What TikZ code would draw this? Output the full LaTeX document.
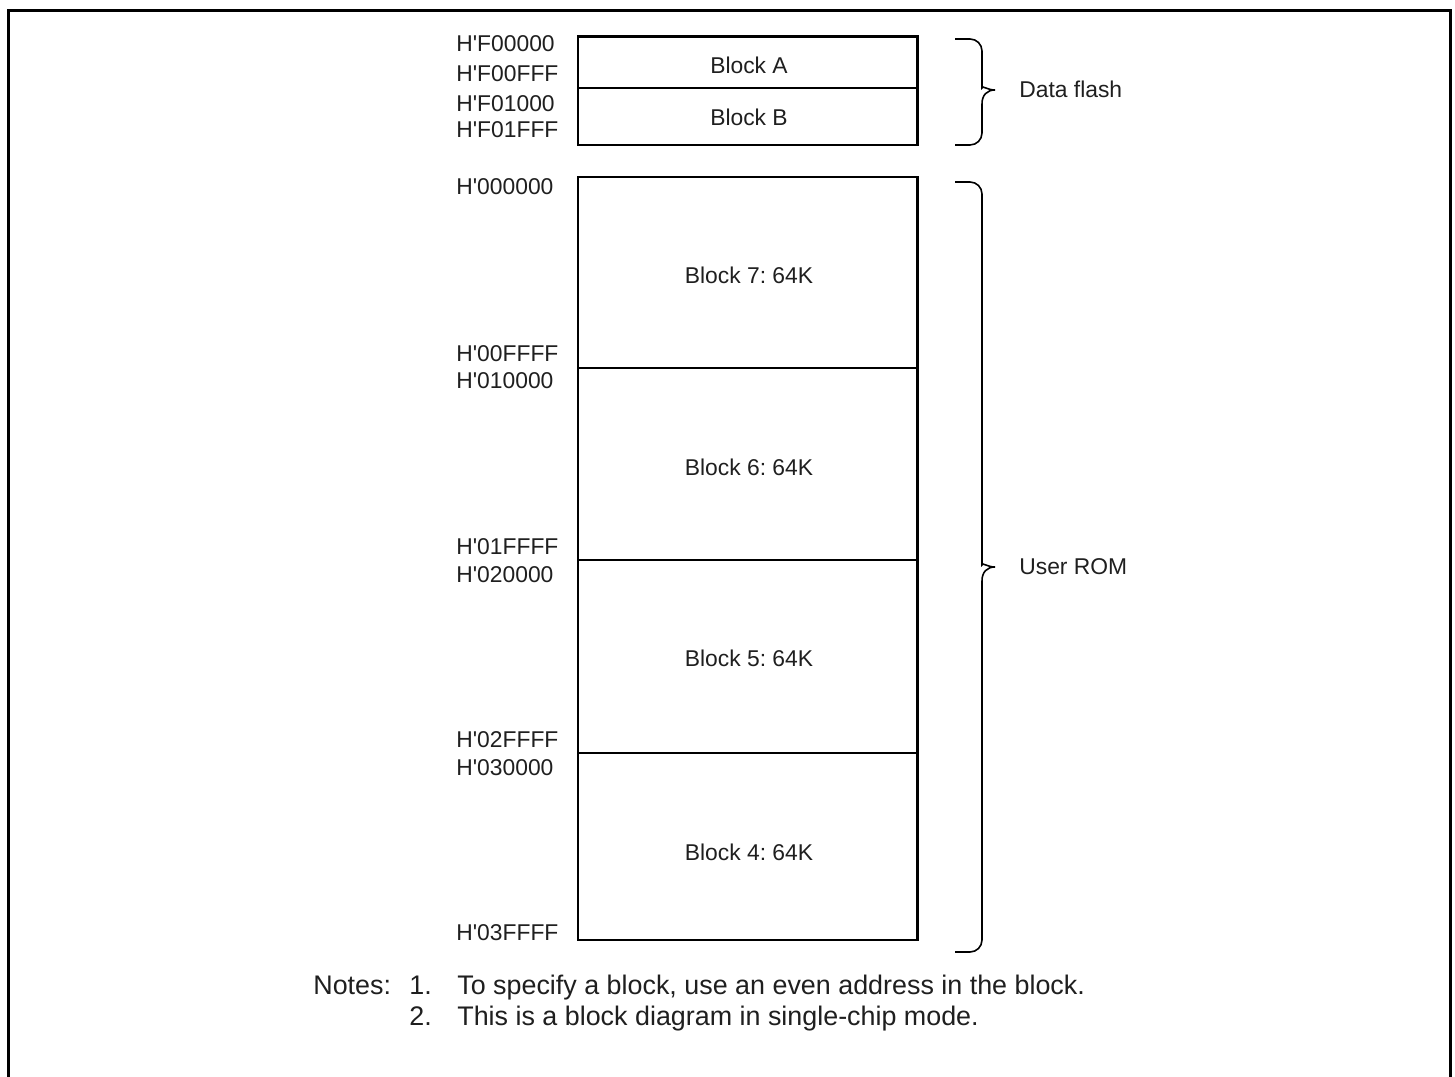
\documentclass[tikz,border=0pt]{standalone}
\usepackage{fontspec}
\setmainfont{Liberation Sans}
\newcommand{\hq}{\textquotesingle}
\newcommand{\membrace}[3]{%
 \draw [line width = 0.9pt] (955,#1) [rounded corners = 0.24cm] -- (982,#1) -- (982,#2-14) [sharp corners]
   .. controls (982,#2-5) and (987,#2) .. (995,#2)
   .. controls (987,#2) and (982,#2+5) .. (982,#2+14) [rounded corners = 0.24cm] -- (982,#3) -- (955,#3);}

\begin{document}
\frenchspacing
\begin{tikzpicture}[x = 0.02cm, y = -0.02cm, font = \fontsize{13pt}{15pt}\selectfont, every node/.style = {inner sep = 0pt, text = black!88}]
\useasboundingbox (0,0) rectangle (1455,1077);
\draw [line width = 0.06cm] (8.5,1077) -- (8.5,10.5) -- (1450.5,10.5) -- (1450.5,1077);
% data flash
\draw [line width = 1.7pt] (578,37) rectangle (917,145);
\draw [line width = 1.7pt] (578,88) -- (917,88);
% user rom
\draw [line width = 1.7pt] (578,177) rectangle (917,940);
\draw [line width = 1.7pt] (578,368) -- (917,368);
\draw [line width = 1.7pt] (578,560) -- (917,560);
\draw [line width = 1.7pt] (578,753) -- (917,753);
\membrace{39}{90}{145}
\membrace{182}{567}{952}
\node (blkA) [anchor = base] at (749,74) {Block A};
\node (blkB) [anchor = base] at (749,126) {Block B};
\node (blk7) [anchor = base] at (749,284) {Block 7: 64K};
\node (blk6) [anchor = base] at (749,476) {Block 6: 64K};
\node (blk5) [anchor = base] at (749,667) {Block 5: 64K};
\node (blk4) [anchor = base] at (749,861) {Block 4: 64K};
\node (aF00000) [anchor = base west] at (456,52) {H\hq F00000};
\node (aF00FFF) [anchor = base west] at (456,82) {H\hq F00FFF};
\node (aF01000) [anchor = base west] at (456,112) {H\hq F01000};
\node (aF01FFF) [anchor = base west] at (456,138) {H\hq F01FFF};
\node (a000000) [anchor = base west] at (456,195) {H\hq 000000};
\node (a00FFFF) [anchor = base west] at (456,362) {H\hq 00FFFF};
\node (a010000) [anchor = base west] at (456,389) {H\hq 010000};
\node (a01FFFF) [anchor = base west] at (456,555) {H\hq 01FFFF};
\node (a020000) [anchor = base west] at (456,583) {H\hq 020000};
\node (a02FFFF) [anchor = base west] at (456,748) {H\hq 02FFFF};
\node (a030000) [anchor = base west] at (456,776) {H\hq 030000};
\node (a03FFFF) [anchor = base west] at (456,940) {H\hq 03FFFF};
\node (dflash) [anchor = base west] at (1019,98) {Data flash};
\node (urom) [anchor = base west] at (1019,575) {User ROM};
% notes
\begin{scope}[font = \fontsize{15.3pt}{18pt}\selectfont]
\node (notes) [anchor = base west] at (313,994) {Notes:};
\node (n1) [anchor = base west] at (409,994) {1.};
\node (t1) [anchor = base west] at (457,994) {To specify a block, use an even address in the block.};
\node (n2) [anchor = base west] at (409,1025) {2.};
\node (t2) [anchor = base west] at (457,1025) {This is a block diagram in single-chip mode.};
\end{scope}
\end{tikzpicture}
\end{document}
